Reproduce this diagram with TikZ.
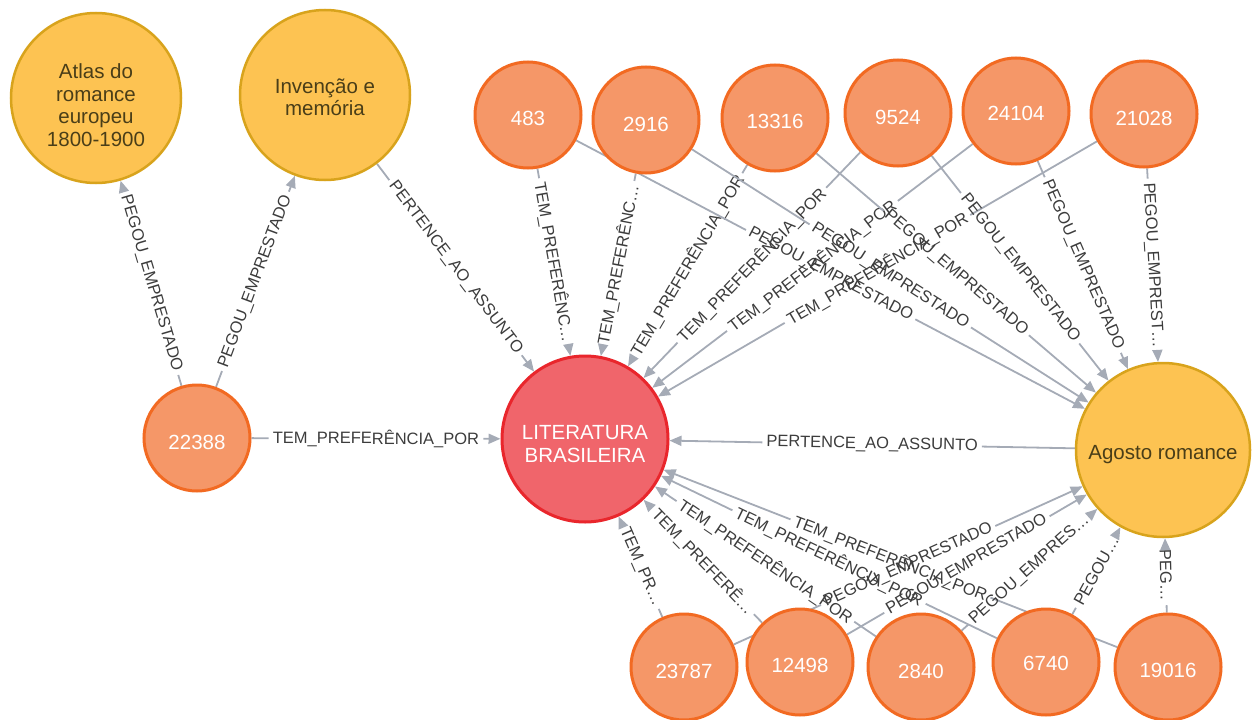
\documentclass[tikz,border=0pt]{standalone}
\usepackage{fontspec}
\setmainfont{Liberation Sans}
\usetikzlibrary{arrows.meta}

\definecolor{relgray}{HTML}{A5ABB6}
\definecolor{reltext}{HTML}{3C3C3C}
\definecolor{yellowfill}{HTML}{FDC352}
\definecolor{yellowline}{HTML}{D8A31C}
\definecolor{yellowtext}{HTML}{4A3E18}
\definecolor{orangefill}{HTML}{F59768}
\definecolor{orangeline}{HTML}{F26A22}
\definecolor{redfill}{HTML}{F0656B}
\definecolor{redline}{HTML}{E9262C}

\pgfdeclarelayer{edges}
\pgfsetlayers{edges,main}

\tikzset{
  basenode/.style={circle, inner sep=0pt},
  topicnode/.style={basenode, fill=yellowfill, draw=yellowline,
    line width=2.5pt, minimum size=170pt},
  readernode/.style={basenode, fill=orangefill, draw=orangeline,
    line width=3pt, minimum size=106pt},
  subjectnode/.style={basenode, fill=redfill, draw=redline,
    line width=3pt, minimum size=166pt},
  basecap/.style={inner sep=0pt, align=center,
    font=\fontsize{20.5}{22.5}\selectfont},
  topiccap/.style={basecap, text=yellowtext},
  readercap/.style={basecap, text=white},
  subjectcap/.style={basecap, text=white},
  rellabel/.style={text=reltext, inner xsep=4pt, inner ysep=1pt,
    font=\fontsize{16.5}{18}\selectfont},
  relline/.style={draw=relgray, line width=1.8pt},
  relarrow/.style={-{Triangle[length=12pt,width=10pt]}},
}

% circle with its caption set slightly below the centre:
% style, name, centre, caption offset, caption
\newcommand\circlenode[5]{%
  \node[#1node] (#2) at #3 {};
  \node[#1cap] (#2-cap) at ([yshift=-#4pt]#2.center) {#5};
}

% relationship: source, target, caption (line is broken around the caption)
\newcommand\drawrel[3]{%
  \path (#1) -- (#2) node[rellabel, pos=0.5, sloped] (#1-#2) {#3};
  \draw[relline] (#1) -- (#1-#2);
  \draw[relline, relarrow] (#1-#2) -- (#2);
}

\begin{document}
\begin{tikzpicture}[x=1pt, y=-1pt]
\clip (0,0) rectangle (1256,720);
\useasboundingbox (0,0) rectangle (1256,720);

% books and subjects
\circlenode{topic}{atlas}{(96,98)}{7}{Atlas do\\romance\\europeu\\1800-1900}
\circlenode{topic}{inven}{(325,95)}{2}{Invenção e\\memória}
\circlenode{subject}{lit}{(585,439)}{5}{LITERATURA\\BRASILEIRA}
\node[topicnode, minimum size=174pt] (agosto) at (1163,450) {};
\node[topiccap] (agosto-cap) at ([yshift=-5pt]agosto.center) {Agosto romance};

% readers
\circlenode{reader}{n22388}{(197,438)}{4}{22388}
\circlenode{reader}{n483}{(528,115)}{3}{483}
\circlenode{reader}{n2916}{(646,120)}{4}{2916}
\circlenode{reader}{n13316}{(775,118)}{3}{13316}
\circlenode{reader}{n9524}{(898,113)}{4}{9524}
\circlenode{reader}{n24104}{(1016,111)}{2}{24104}
\circlenode{reader}{n21028}{(1144,114)}{4}{21028}
\circlenode{reader}{n23787}{(684,667)}{4}{23787}
\circlenode{reader}{n12498}{(800,662)}{3}{12498}
\circlenode{reader}{n2840}{(921,667)}{4}{2840}
\circlenode{reader}{n6740}{(1046,662)}{1}{6740}
\circlenode{reader}{n19016}{(1168,667)}{3}{19016}

\begin{pgfonlayer}{edges}
\drawrel{n22388}{atlas}{PEGOU\_EMPRESTADO}
\drawrel{n22388}{inven}{PEGOU\_EMPRESTADO}
\drawrel{n22388}{lit}{TEM\_PREFERÊNCIA\_POR}
\drawrel{inven}{lit}{PERTENCE\_AO\_ASSUNTO}
\drawrel{agosto}{lit}{PERTENCE\_AO\_ASSUNTO}

\drawrel{n483}{lit}{TEM\_PREFERÊNC…}
\drawrel{n2916}{lit}{TEM\_PREFERÊNC…}
\drawrel{n13316}{lit}{TEM\_PREFERÊNCIA\_POR}
\drawrel{n9524}{lit}{TEM\_PREFERÊNCIA\_POR}
\drawrel{n24104}{lit}{TEM\_PREFERÊNCIA\_POR}
\drawrel{n21028}{lit}{TEM\_PREFERÊNCIA\_POR}

\drawrel{n483}{agosto}{PEGOU\_EMPRESTADO}
\drawrel{n2916}{agosto}{PEGOU\_EMPRESTADO}
\drawrel{n13316}{agosto}{PEGOU\_EMPRESTADO}
\drawrel{n9524}{agosto}{PEGOU\_EMPRESTADO}
\drawrel{n24104}{agosto}{PEGOU\_EMPRESTADO}
\drawrel{n21028}{agosto}{PEGOU\_EMPREST…}

\drawrel{n23787}{lit}{TEM\_PR…}
\drawrel{n12498}{lit}{TEM\_PREFERÊ…}
\drawrel{n2840}{lit}{TEM\_PREFERÊNCIA\_POR}
\drawrel{n6740}{lit}{TEM\_PREFERÊNCIA\_POR}
\drawrel{n19016}{lit}{TEM\_PREFERÊNCIA\_POR}

\drawrel{n23787}{agosto}{PEGOU\_EMPRESTADO}
\drawrel{n12498}{agosto}{PEGOU\_EMPRESTADO}
\drawrel{n2840}{agosto}{PEGOU\_EMPRES…}
\drawrel{n6740}{agosto}{PEGOU…}
\drawrel{n19016}{agosto}{PEG…}
\end{pgfonlayer}
\end{tikzpicture}
\end{document}
